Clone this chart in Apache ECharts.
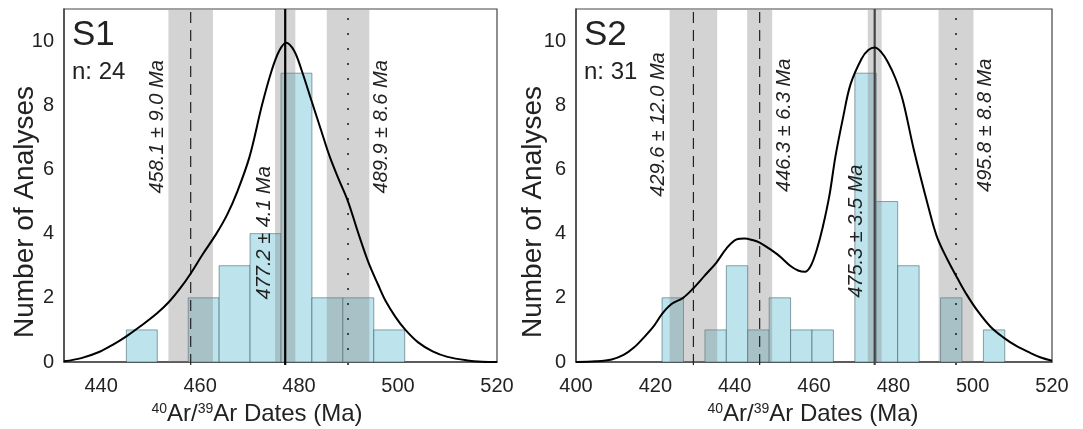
<!DOCTYPE html>
<html>
<head>
<meta charset="utf-8">
<script src="https://cdn.jsdelivr.net/npm/echarts@6/dist/echarts.min.js"></script>
<style>
  html, body { margin: 0; padding: 0; background: #fff; }
  #chart { width: 1083px; height: 429px; }
</style>
</head>
<body>
<div id="chart"></div>
<script>
// --- data ---
const xTicksS1 = [440, 460, 480, 500, 520]
const xTicksS2 = [400, 420, 440, 460, 480, 500, 520]
const yTicks = [0, 2, 4, 6, 8, 10]

// histogram bins (edges in Ma) and counts
const s1Edges = [445.1, 451.35, 457.6, 463.85, 470.1, 476.35, 482.6, 488.85, 495.1, 501.35]
const s1Counts = [1, 0, 2, 3, 4, 9, 2, 2, 1]
const s2Edges = [421.7, 427.1, 432.5, 437.9, 443.3, 448.7, 454.1, 459.5, 464.9, 470.3, 475.7, 481.1, 486.5, 491.9, 497.3, 502.7, 508.1]
const s2Counts = [2, 0, 1, 3, 1, 2, 1, 1, 0, 9, 5, 3, 0, 2, 0, 1]

// age peaks and uncertainties
const s1Ages = [458.1, 477.2, 489.9]
const s1Errors = [9.0, 4.1, 8.6]
const s1LineTypes = ['dashed', 'solid', 'dotted']
const s2Ages = [429.6, 446.3, 475.3, 495.8]
const s2Errors = [12.0, 6.3, 3.5, 8.8]
const s2LineTypes = ['dashed', 'dashed', 'solid', 'dotted']

// probability density curves (age, scaled count)
const s1Curve = [
  [432.5, 0.02], [436, 0.12], [439.7, 0.32], [442.5, 0.55], [445.1, 0.8], [448, 1.12],
  [451.3, 1.52], [453.7, 1.87], [456, 2.3], [458.1, 2.76], [460.5, 3.35], [463.3, 4.0],
  [465.5, 4.6], [467.5, 5.3], [470, 6.4], [472.5, 8.0], [474.5, 9.1], [476, 9.7],
  [477.4, 9.95], [479, 9.7], [480.5, 9.1], [482.6, 8.1], [484.5, 7.2], [486.2, 6.4],
  [488, 5.7], [489.9, 5.0], [492, 4.0], [494.1, 3.07], [496, 2.4], [497.5, 1.9],
  [499.5, 1.4], [501.5, 1.0], [504, 0.62], [507, 0.33], [510, 0.16], [514, 0.05],
  [517, 0.01], [520, 0]
]
const s2Curve = [
  [400, 0], [405, 0.02], [409, 0.08], [412, 0.22], [414.6, 0.45], [417, 0.75],
  [419.5, 1.1], [421.7, 1.5], [424, 1.8], [427, 2.0], [429.6, 2.3], [432.5, 2.7],
  [435.4, 3.1], [438, 3.55], [440.5, 3.82], [442.5, 3.85], [444.5, 3.8], [446.3, 3.72],
  [448.5, 3.55], [451.3, 3.3], [454, 3.0], [456, 2.85], [457.7, 2.81], [459.2, 3.0],
  [460.7, 3.5], [462.2, 4.2], [463.9, 5.2], [465.4, 6.4], [467.3, 7.6], [469.2, 8.65],
  [472, 9.45], [473.7, 9.72], [475.3, 9.8], [477, 9.65], [478.6, 9.35], [480.5, 8.85],
  [482.4, 8.15], [485.2, 6.6], [488.9, 4.8], [491, 3.9], [493.6, 3.2], [496.2, 2.6],
  [498.5, 2.1], [501.2, 1.6], [504.5, 1.1], [507.8, 0.76], [511, 0.5], [514.4, 0.29],
  [517, 0.15], [520, 0.04]
]

// --- chart ---
const FONT = 'Liberation Sans, Arial, sans-serif'
const chart = echarts.init(document.getElementById('chart'))

const binData = (edges, counts) =>
  counts.map((c, i) => [edges[i], edges[i + 1], c]).filter((d) => d[2] > 0)

const peakData = (ages, errs, types) => ages.map((a, i) => [a, errs[i], types[i]])

const fmtAge = (a, e) => a.toFixed(1) + ' ± ' + e.toFixed(1) + ' Ma'

// which side of the band the label sits on, and where it starts (in counts)
const labelPlace = {
  s1: [['left', 5.25], ['left', 1.95], ['right', 5.25]],
  s2: [['left', 5.15], ['right', 5.3], ['left', 2.0], ['right', 5.3]],
}

const barsSeries = (idx, data) => ({
  type: 'custom',
  xAxisIndex: idx,
  yAxisIndex: idx,
  z: 2,
  data: data,
  renderItem: (params, api) => {
    const p0 = api.coord([api.value(0), api.value(2)])
    const p1 = api.coord([api.value(1), 0])
    return {
      type: 'rect',
      shape: { x: p0[0], y: p0[1], width: p1[0] - p0[0], height: p1[1] - p0[1] },
      style: { fill: '#bde4ed', stroke: 'rgba(40,75,85,0.5)', lineWidth: 1 },
    }
  },
})

const bandSeries = (idx, data) => ({
  type: 'custom',
  xAxisIndex: idx,
  yAxisIndex: idx,
  z: 3,
  data: data,
  renderItem: (params, api) => {
    const cs = params.coordSys
    const a = api.value(0)
    const e = api.value(1)
    const l = api.coord([a - e / 2, 0])[0]
    const r = api.coord([a + e / 2, 0])[0]
    return {
      type: 'rect',
      shape: { x: l, y: cs.y + 1, width: r - l, height: cs.height - 1 },
      style: { fill: 'rgba(128,128,128,0.345)' },
    }
  },
})

const lineSeries = (idx, data, solidColor) => ({
  type: 'custom',
  xAxisIndex: idx,
  yAxisIndex: idx,
  z: 4,
  data: data,
  renderItem: (params, api) => {
    const cs = params.coordSys
    const x = api.coord([api.value(0), 0])[0]
    const t = data[params.dataIndex][2]
    const style = { stroke: '#222', lineWidth: 1.2 }
    if (t === 'dashed') style.lineDash = [11, 7]
    if (t === 'dotted') { style.lineDash = [2, 13]; style.lineWidth = 1.6 }
    if (t === 'solid') { style.stroke = solidColor; style.lineWidth = 2.2 }
    return {
      type: 'line',
      shape: { x1: x, y1: cs.y + cs.height + 3, x2: x, y2: cs.y },
      style: style,
    }
  },
})

const textSeries = (idx, data, place) => ({
  type: 'custom',
  xAxisIndex: idx,
  yAxisIndex: idx,
  z: 6,
  data: data,
  renderItem: (params, api) => {
    const a = api.value(0)
    const e = api.value(1)
    const side = place[params.dataIndex][0]
    const yStart = place[params.dataIndex][1]
    const edge = side === 'left' ? a - e / 2 : a + e / 2
    const p = api.coord([edge, yStart])
    return {
      type: 'text',
      x: p[0] + (side === 'left' ? -1 : 2),
      y: p[1],
      rotation: Math.PI / 2,
      style: {
        text: fmtAge(a, e),
        fontFamily: FONT,
        fontStyle: 'italic',
        fontSize: 20,
        fill: '#222',
        align: 'left',
        verticalAlign: side === 'left' ? 'bottom' : 'top',
      },
    }
  },
})

const curveSeries = (idx, data) => ({
  type: 'line',
  xAxisIndex: idx,
  yAxisIndex: idx,
  z: 5,
  data: data,
  smooth: 0.35,
  showSymbol: false,
  lineStyle: { color: '#000', width: 2 },
})

const xAxisBase = (idx, min, ticks) => ({
  type: 'value',
  gridIndex: idx,
  min: min,
  max: 520,
  splitLine: { show: false },
  axisTick: { show: false },
  axisLine: { lineStyle: { color: '#444', width: 1.5 } },
  axisLabel: {
    customValues: ticks,
    margin: 14,
    fontFamily: FONT,
    fontSize: 20,
    color: '#222',
  },
})

const yAxisBase = (idx) => ({
  type: 'value',
  gridIndex: idx,
  min: 0,
  max: 11,
  splitLine: { show: false },
  axisTick: { show: false },
  axisLine: { show: true, lineStyle: { color: '#444', width: 1.5 } },
  axisLabel: {
    customValues: yTicks,
    margin: 10,
    fontFamily: FONT,
    fontSize: 20,
    color: '#222',
  },
})

const titleText = (x, y, text, rot, size) => ({
  type: 'text',
  x: x,
  y: y,
  rotation: rot,
  style: {
    text: text,
    fontFamily: FONT,
    fontSize: size,
    fill: '#222',
    align: 'center',
    verticalAlign: 'middle',
    rich: {
      m: { fontFamily: FONT, fontSize: size, fill: '#222' },
      s: { fontFamily: FONT, fontSize: 14, fill: '#222', verticalAlign: 'top', lineHeight: 14 },
    },
  },
})

const labelText = (x, y, text, size) => ({
  type: 'text',
  x: x,
  y: y,
  style: { text: text, fontFamily: FONT, fontSize: size, fill: '#222' },
})

chart.setOption({
  animation: false,
  backgroundColor: '#fff',
  grid: [
    { left: 64, top: 9, width: 433, height: 353, show: true, borderColor: '#444', borderWidth: 1.2 },
    { left: 576, top: 9, width: 476, height: 353, show: true, borderColor: '#444', borderWidth: 1.2 },
  ],
  xAxis: [xAxisBase(0, 432.5, xTicksS1), xAxisBase(1, 400, xTicksS2)],
  yAxis: [yAxisBase(0), yAxisBase(1)],
  series: [
    barsSeries(0, binData(s1Edges, s1Counts)),
    bandSeries(0, peakData(s1Ages, s1Errors, s1LineTypes)),
    lineSeries(0, peakData(s1Ages, s1Errors, s1LineTypes), '#000'),
    curveSeries(0, s1Curve),
    textSeries(0, peakData(s1Ages, s1Errors, s1LineTypes), labelPlace.s1),
    barsSeries(1, binData(s2Edges, s2Counts)),
    bandSeries(1, peakData(s2Ages, s2Errors, s2LineTypes)),
    lineSeries(1, peakData(s2Ages, s2Errors, s2LineTypes), '#444'),
    curveSeries(1, s2Curve),
    textSeries(1, peakData(s2Ages, s2Errors, s2LineTypes), labelPlace.s2),
  ],
  graphic: [
    titleText(25, 212, 'Number of Analyses', Math.PI / 2, 28),
    titleText(533, 212, 'Number of Analyses', Math.PI / 2, 28),
    titleText(257, 414, '{s|40}{m|Ar/}{s|39}{m|Ar Dates (Ma)}', 0, 24),
    titleText(813, 414, '{s|40}{m|Ar/}{s|39}{m|Ar Dates (Ma)}', 0, 24),
    labelText(72, 18, 'S1', 35),
    labelText(72, 60, 'n: 24', 24),
    labelText(584, 18, 'S2', 35),
    labelText(584, 60, 'n: 31', 24),
  ],
})
</script>
</body>
</html>
